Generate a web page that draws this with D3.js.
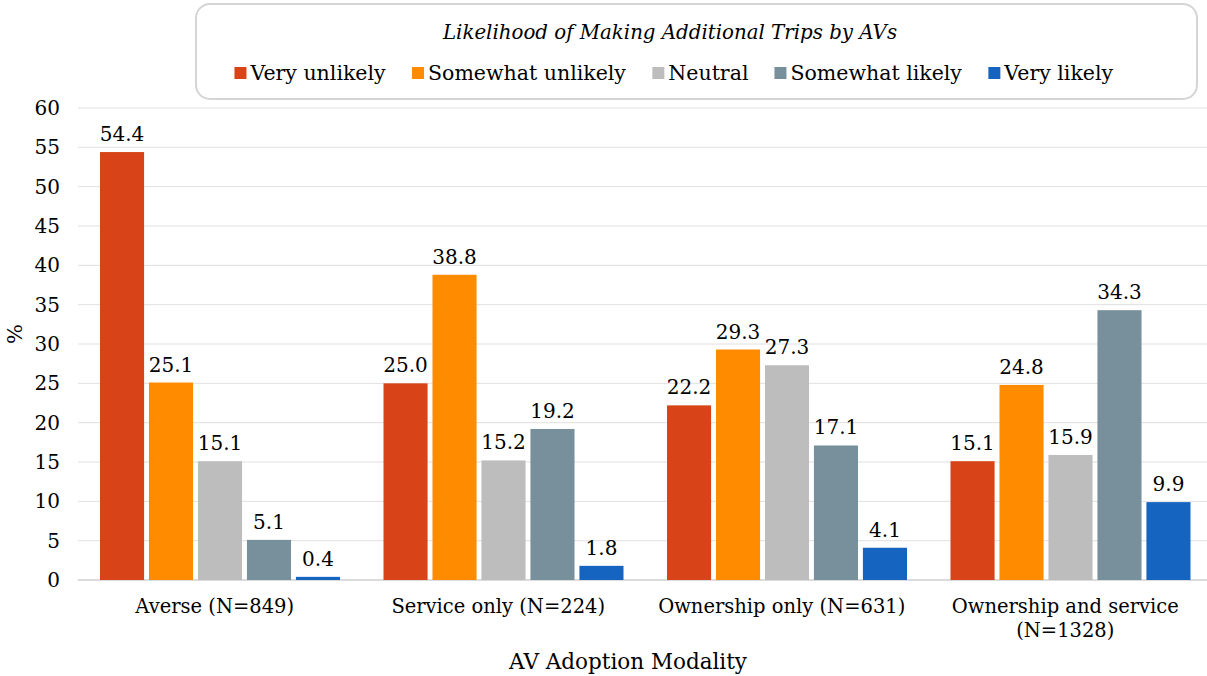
<!DOCTYPE html>
<html><head><meta charset="utf-8">
<script src="https://cdn.jsdelivr.net/npm/d3@7"></script>
<style>body{margin:0;background:#fff}svg{display:block}</style>
</head><body>
<svg id="c" width="1207" height="676"></svg>
<script>
const categories = ["Averse (N=849)", "Service only (N=224)", "Ownership only (N=631)", "Ownership and service\n(N=1328)"];
const seriesNames = ["Very unlikely", "Somewhat unlikely", "Neutral", "Somewhat likely", "Very likely"];
const seriesColors = ["#D84418", "#FF8C00", "#BDBDBD", "#78909C", "#1565C0"];
const veryUnlikely = [54.4, 25.0, 22.2, 15.1];
const somewhatUnlikely = [25.1, 38.8, 29.3, 24.8];
const neutral = [15.1, 15.2, 27.3, 15.9];
const somewhatLikely = [5.1, 19.2, 17.1, 34.3];
const veryLikely = [0.4, 1.8, 4.1, 9.9];
const yTicks = [0, 5, 10, 15, 20, 25, 30, 35, 40, 45, 50, 55, 60];
const legendTitle = "Likelihood of Making Additional Trips by AVs";
const xTitle = "AV Adoption Modality";
const yTitle = "%";

(function () {
const series = [veryUnlikely, somewhatUnlikely, neutral, somewhatLikely, veryLikely];
const font = "'DejaVu Serif', Georgia, serif";
const svg = d3.select("#c");
const pLeft = 78, pRight = 1212, pTop = 108, pBottom = 580;

const y = d3.scaleLinear().domain([0, 60]).range([pBottom, pTop]);
const x0 = d3.scaleBand().domain(categories).range([pLeft, pRight]).padding(0);
const x1 = d3.scaleBand().domain(seriesNames).range([22, x0.bandwidth() - 21.5]).paddingInner(0.1);

// gridlines
svg.append("g").selectAll("line").data(yTicks).join("line")
  .attr("x1", pLeft).attr("x2", 1207).attr("y1", d => y(d)).attr("y2", d => y(d))
  .attr("stroke", d => d === 0 ? "#D0D0D0" : "#E0E0E0").attr("stroke-width", d => d === 0 ? 1.5 : 1);

// y tick labels
svg.append("g").selectAll("text").data(yTicks).join("text")
  .attr("x", 60).attr("y", d => y(d)).attr("dy", "0.35em").attr("text-anchor", "end")
  .attr("font-family", font).attr("font-size", 20).attr("fill", "#000").text(d => d);

// bars
const groups = svg.append("g").selectAll("g").data(categories).join("g")
  .attr("transform", d => `translate(${x0(d)},0)`);
groups.each(function(cat, ci) {
  const g = d3.select(this);
  const data = seriesNames.map((s, si) => ({s, si, v: series[si][ci]}));
  g.selectAll("rect").data(data).join("rect")
    .attr("x", d => x1(d.s)).attr("width", x1.bandwidth())
    .attr("y", d => y(d.v)).attr("height", d => y(0) - y(d.v))
    .attr("fill", d => seriesColors[d.si]);
  g.selectAll("text").data(data).join("text")
    .attr("x", d => x1(d.s) + x1.bandwidth() / 2).attr("y", d => y(d.v) - 11)
    .attr("text-anchor", "middle").attr("font-family", font).attr("font-size", 20)
    .text(d => d.v.toFixed(1));
});

// x labels
categories.forEach(cat => {
  const lines = cat.split("\n");
  const cxp = x0(cat) + x0.bandwidth() / 2 - 5;
  const t = svg.append("text").attr("text-anchor", "middle").attr("font-family", font)
    .attr("font-size", 19.5).attr("x", cxp);
  lines.forEach((l, i) => t.append("tspan").attr("x", cxp).attr("y", 613 + i * 24).text(l));
});

// axis titles
svg.append("text").attr("x", 628).attr("y", 669).attr("text-anchor", "middle")
  .attr("font-family", font).attr("font-size", 21.5).text(xTitle);
svg.append("text").attr("transform", `translate(22,${(pTop + pBottom) / 2 - 10}) rotate(-90)`)
  .attr("text-anchor", "middle").attr("font-family", font).attr("font-size", 21).text(yTitle);

// legend
const lg = svg.append("g");
lg.append("rect").attr("x", 196).attr("y", 4).attr("width", 1001).attr("height", 95)
  .attr("rx", 14).attr("fill", "#fff").attr("stroke", "#D5D5D5").attr("stroke-width", 2);
lg.append("text").attr("x", 670).attr("y", 39).attr("text-anchor", "middle")
  .attr("font-family", font).attr("font-style", "italic").attr("font-size", 19.8).text(legendTitle);
const items = lg.selectAll("g.item").data(seriesNames).join("g").attr("class", "item");
items.append("rect").attr("width", 12).attr("height", 12).attr("y", 67)
  .attr("fill", (d, i) => seriesColors[i]);
items.append("text").attr("x", 16).attr("y", 80).attr("font-family", font)
  .attr("font-size", 20.5).text(d => d);
const widths = [];
items.each(function() { widths.push(this.getBBox().width); });
const gap = 26;
const total = d3.sum(widths) + gap * (widths.length - 1);
let cx = 674 - total / 2;
items.attr("transform", (d, i) => { const t = `translate(${cx},0)`; cx += widths[i] + gap; return t; });
})();
</script>
</body></html>
